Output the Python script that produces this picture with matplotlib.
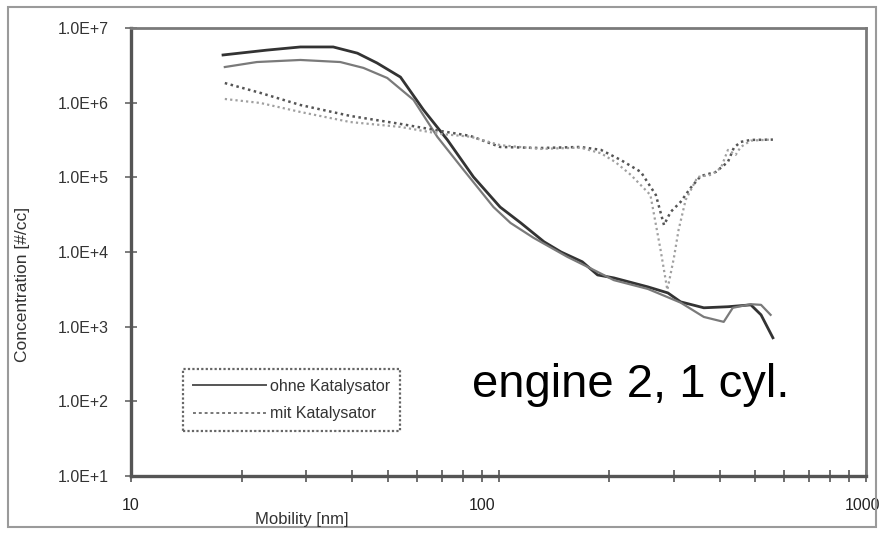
import numpy as np
import matplotlib.pyplot as plt
import matplotlib.transforms as mtransforms
from matplotlib.patches import Rectangle
from matplotlib.ticker import LogLocator, FixedLocator, NullFormatter

# particle size distributions, mobility diameter [nm] vs concentration [#/cc]
ohne1_d = [17.8, 23.4, 28.9, 35.5, 41.3, 46.7, 54.1, 62.5, 72.6, 85.5, 101, 115, 133,
           148, 169, 186, 206, 255, 289, 313, 362, 421, 486, 518, 558]
ohne1_c = [4.35e6, 5.05e6, 5.57e6, 5.57e6, 4.6e6, 3.4e6, 2.2e6, 8.0e5, 3.17e5, 1.01e5,
           4.0e4, 2.45e4, 1.37e4, 1.0e4, 7.4e3, 4.93e3, 4.5e3, 3.41e3, 2.83e3, 2.15e3,
           1.79e3, 1.85e3, 1.96e3, 1.44e3, 7.1e2]

ohne2_d = [18.0, 22.0, 28.9, 37.1, 42.9, 49.8, 58.7, 68.2, 80.3, 96.9, 107.8, 124.5,
           154, 175, 206, 255, 313, 362, 410, 434, 486, 518, 550]
ohne2_c = [3.0e6, 3.5e6, 3.73e6, 3.5e6, 2.92e6, 2.14e6, 1.09e6, 3.47e5, 1.26e5, 4.0e4,
           2.45e4, 1.55e4, 8.6e3, 6.3e3, 4.2e3, 3.2e3, 2.1e3, 1.35e3, 1.16e3, 1.79e3,
           2.0e3, 1.96e3, 1.44e3]

mit1_d = [18.0, 22.5, 28.9, 39.5, 54.1, 69.5, 83.9, 101, 130, 167, 190, 215, 244, 268,
          282, 294, 313, 333, 355, 390, 421, 437, 456, 486, 558]
mit1_c = [1.83e6, 1.35e6, 9.3e5, 6.64e5, 5.19e5, 4.18e5, 3.58e5, 2.55e5, 2.47e5, 2.55e5,
          2.33e5, 1.71e5, 1.18e5, 5.8e4, 2.3e4, 3.44e4, 4.69e4, 7.2e4, 1.04e5, 1.18e5,
          1.61e5, 2.5e5, 2.98e5, 3.17e5, 3.2e5]

mit2_d = [18.0, 22.5, 28.9, 39.5, 54.1, 69.5, 83.9, 101, 130, 167, 190, 208, 229, 259,
          276, 288, 300, 309, 323, 348, 379, 403, 421, 442, 456, 486, 550]
mit2_c = [1.12e6, 9.9e5, 7.5e5, 5.5e5, 4.73e5, 3.81e5, 3.5e5, 2.7e5, 2.4e5, 2.5e5,
          2.1e5, 1.6e5, 1.08e5, 5.8e4, 1.07e4, 3.11e3, 8.3e3, 1.98e4, 4.98e4, 1.01e5,
          1.08e5, 1.34e5, 2.33e5, 2.0e5, 2.55e5, 3.1e5, 3.2e5]

y_ticks = [1e1, 1e2, 1e3, 1e4, 1e5, 1e6, 1e7]
y_labels = ["1.0E+1", "1.0E+2", "1.0E+3", "1.0E+4", "1.0E+5", "1.0E+6", "1.0E+7"]
x_ticks = [10, 100, 1000]
x_labels = ["10", "100", "1000"]

plt.rcParams['font.family'] = ['Liberation Sans', 'DejaVu Sans']

fig = plt.figure(figsize=(8.81, 5.33), dpi=100)
ax = fig.add_axes([0.1487, 0.1069, 0.8343, 0.8406])

ax.plot(ohne1_d, ohne1_c, color='#333333', lw=2.0, solid_joinstyle='round')
ax.plot(ohne2_d, ohne2_c, color='#7a7a7a', lw=1.6)
ax.plot(mit1_d, mit1_c, color='#555555', lw=1.8, linestyle=(0, (1, 1.4)))
ax.plot(mit2_d, mit2_c, color='#a0a0a0', lw=1.6, linestyle=(0, (1, 1.4)))

ax.set_xscale('log')
ax.set_yscale('log')
ax.set_xlim(10, 1000)
ax.set_ylim(1e1, 1e7)

ax.yaxis.set_major_locator(FixedLocator(y_ticks))
ax.set_yticklabels(y_labels)
ax.yaxis.set_minor_locator(FixedLocator([]))
ax.xaxis.set_major_locator(FixedLocator(x_ticks))
ax.set_xticklabels([])
ax.xaxis.set_minor_locator(LogLocator(base=10, subs=np.arange(2, 10)))
ax.xaxis.set_minor_formatter(NullFormatter())

ax.tick_params(axis='y', which='major', direction='inout', length=8, width=1.2,
               color='#666666', labelsize=11.5, labelcolor='#333333', pad=12)
ax.tick_params(axis='x', which='both', direction='inout', length=8, width=1.2,
               color='#555555')

# x tick labels placed by hand: "100" sits left of its tick, "1000" runs to the edge
xlab_trans = mtransforms.blended_transform_factory(ax.transData, ax.transAxes)
x_shift = [0, -16, -4]
x_align = ['center', 'center', 'center']
for xv, txt, dx, ha in zip(x_ticks, x_labels, x_shift, x_align):
    tr = mtransforms.offset_copy(xlab_trans, fig=fig, x=dx, y=0, units='dots')
    ax.text(xv, -0.065, txt, transform=tr, ha=ha, va='center',
            fontsize=11.5, color='#222222', clip_on=False)

for side in ['left', 'bottom']:
    ax.spines[side].set_color('#555555')
    ax.spines[side].set_linewidth(2.4)
for side in ['top', 'right']:
    ax.spines[side].set_color('#7a7a7a')
    ax.spines[side].set_linewidth(2.0)

fig.text(0.025, 0.467, "Concentration [#/cc]", rotation=90, ha='center', va='center',
         fontsize=12.5, color='#333333')
fig.text(0.343, 0.025, "Mobility [nm]", ha='center', va='center',
         fontsize=12, color='#333333')

ax.text(0.5356, 0.2777, "engine 2, 1 cyl.", transform=fig.transFigure,
        ha='left', va='center', fontsize=34, color='black')

# legend entries built from proxy lines matching the two line styles
h1, = ax.plot([], [], color='#555555', lw=1.4)
h2, = ax.plot([], [], color='#777777', lw=1.4, linestyle=(0, (1.5, 1.5)))
leg = ax.legend([h1, h2], ["ohne Katalysator", "mit Katalysator"],
                loc='upper left', bbox_to_anchor=(0.2077, 0.3077),
                bbox_transform=fig.transFigure, borderaxespad=0,
                fontsize=11.5, handlelength=4.6, handletextpad=0.25,
                borderpad=0.6, labelspacing=0.8, fancybox=False, framealpha=1,
                edgecolor='#666666')
leg.get_frame().set_linewidth(1.6)
leg.get_frame().set_linestyle((0, (1, 1)))
for t in leg.get_texts():
    t.set_color('#333333')

# outer border of the chart area
fig.patches.append(Rectangle((8 / 881, 1 - 527 / 533), 868 / 881, 520 / 533,
                             transform=fig.transFigure, fill=False,
                             edgecolor='#9a9a9a', lw=1.5))

fig.savefig('out.png', dpi=100)
